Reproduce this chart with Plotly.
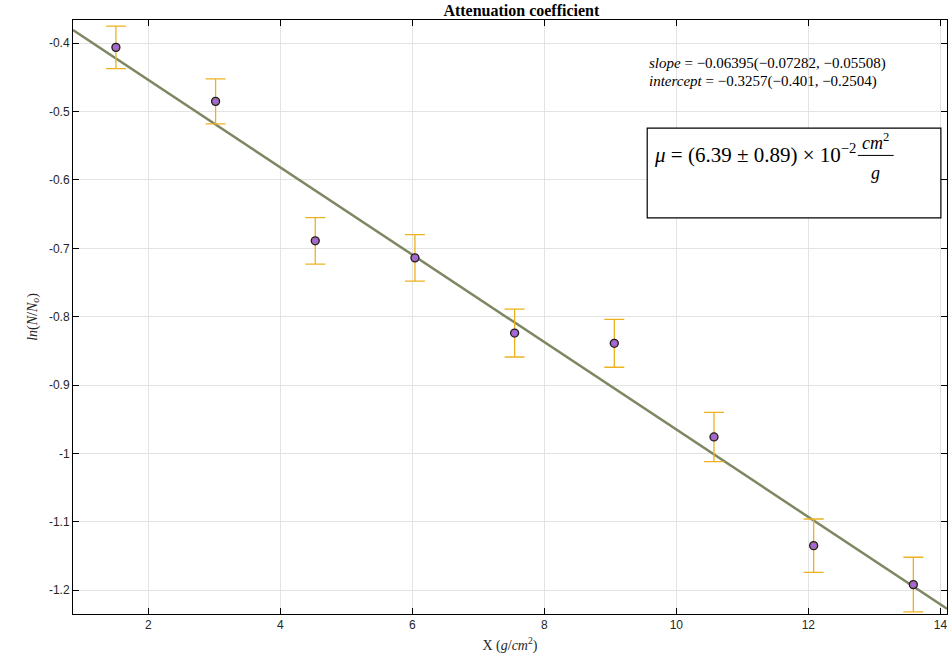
import plotly.graph_objects as go

# Data
x_vals = [1.51, 3.02, 4.53, 6.04, 7.55, 9.06, 10.57, 12.08, 13.59]
y_vals = [-0.406, -0.485, -0.689, -0.714, -0.824, -0.839, -0.976, -1.135, -1.192]
y_err = [0.031, 0.033, 0.034, 0.034, 0.035, 0.035, 0.036, 0.039, 0.040]
slope = -0.06395
intercept = -0.3257
x_range = [0.86, 14.1]
y_range = [-1.235, -0.366]
x_ticks = [2, 4, 6, 8, 10, 12, 14]
y_ticks = [-0.4, -0.5, -0.6, -0.7, -0.8, -0.9, -1.0, -1.1, -1.2]
y_ticktext = ["-0.4", "-0.5", "-0.6", "-0.7", "-0.8", "-0.9", "-1", "-1.1", "-1.2"]

fit_x = [x_range[0], x_range[1]]
fit_y = [slope * v + intercept for v in fit_x]

fig = go.Figure()

fig.add_trace(go.Scatter(
    x=fit_x, y=fit_y, mode="lines",
    line=dict(color="#7d8862", width=2.5), showlegend=False, hoverinfo="skip"))

fig.add_trace(go.Scatter(
    x=x_vals, y=y_vals, mode="markers",
    marker=dict(symbol="circle", size=7, color="rgba(0,0,0,0)"),
    error_y=dict(type="data", array=y_err, visible=True, color="#EDB120",
                 thickness=1.3, width=10),
    showlegend=False))

fig.add_trace(go.Scatter(
    x=x_vals, y=y_vals, mode="markers",
    marker=dict(symbol="circle", size=8, color="#9a6f86",
                line=dict(color="#201828", width=1.3)),
    showlegend=False))

fig.add_trace(go.Scatter(
    x=x_vals, y=y_vals, mode="markers",
    marker=dict(symbol="asterisk-open", size=5, line=dict(color="#6a0a25", width=1)),
    showlegend=False))

serif = "Liberation Serif, Times New Roman, serif"

# Box
fig.add_shape(type="rect", xref="paper", yref="paper",
              x0=0.657, x1=0.993, y0=0.667, y1=0.818,
              line=dict(color="black", width=1.2), fillcolor="white", layer="above")

fig.add_annotation(xref="paper", yref="paper", x=0.657, y=0.926, xanchor="left",
                   yanchor="middle", showarrow=False, align="left",
                   text="<i>slope</i> = \u22120.06395(\u22120.07282, \u22120.05508)",
                   font=dict(family=serif, size=15, color="black"))
fig.add_annotation(xref="paper", yref="paper", x=0.657, y=0.896, xanchor="left",
                   yanchor="middle", showarrow=False, align="left",
                   text="<i>intercept</i> = \u22120.3257(\u22120.401, \u22120.2504)",
                   font=dict(family=serif, size=15, color="black"))

fig.add_annotation(xref="paper", yref="paper", x=0.663, y=0.775, xanchor="left",
                   yanchor="middle", showarrow=False,
                   text="<i>\u03bc</i> = (6.39 \u00b1 0.89) \u00d7 10<sup>\u22122</sup>",
                   font=dict(family=serif, size=21, color="black"))
fig.add_annotation(xref="paper", yref="paper", x=0.918, y=0.795, xanchor="center",
                   yanchor="middle", showarrow=False,
                   text="<i>cm</i><sup>2</sup>",
                   font=dict(family=serif, size=18, color="black"))
fig.add_annotation(xref="paper", yref="paper", x=0.918, y=0.742, xanchor="center",
                   yanchor="middle", showarrow=False,
                   text="<i>g</i>",
                   font=dict(family=serif, size=18, color="black"))
fig.add_shape(type="line", xref="paper", yref="paper",
              x0=0.898, x1=0.939, y0=0.772, y1=0.772,
              line=dict(color="black", width=1), layer="above")

fig.update_layout(
    width=950, height=669,
    margin=dict(l=73, r=3, t=20, b=55),
    paper_bgcolor="white", plot_bgcolor="white",
    title=dict(text="<b>Attenuation coefficient</b>", x=0.513, xanchor="center",
               xref="paper", yref="paper", y=1, yanchor="bottom",
               pad=dict(b=4, t=0),
               font=dict(family=serif, size=16, color="black")),
    font=dict(family="Liberation Sans, Arial, sans-serif", size=12, color="#262626"),
)

fig.update_xaxes(range=x_range, tickvals=x_ticks, ticks="inside", ticklen=6,
                 tickcolor="black", showline=True, linecolor="black", linewidth=1,
                 mirror="ticks", showgrid=True, gridcolor="#e3e3e3", zeroline=False,
                 title=dict(text="X (<i>g</i>/<i>cm</i><sup>2</sup>)", standoff=8,
                            font=dict(family=serif, size=14, color="#262626")))
fig.update_yaxes(range=y_range, tickvals=y_ticks, ticktext=y_ticktext, ticks="inside",
                 ticklen=6, tickcolor="black", showline=True, linecolor="black",
                 linewidth=1, mirror="ticks", showgrid=True, gridcolor="#e3e3e3",
                 zeroline=False,
                 title=dict(text="<i>ln</i>(<i>N</i>/<i>N<sub>o</sub></i>)", standoff=8,
                            font=dict(family=serif, size=14, color="#262626")))

fig.write_html("out.html")
